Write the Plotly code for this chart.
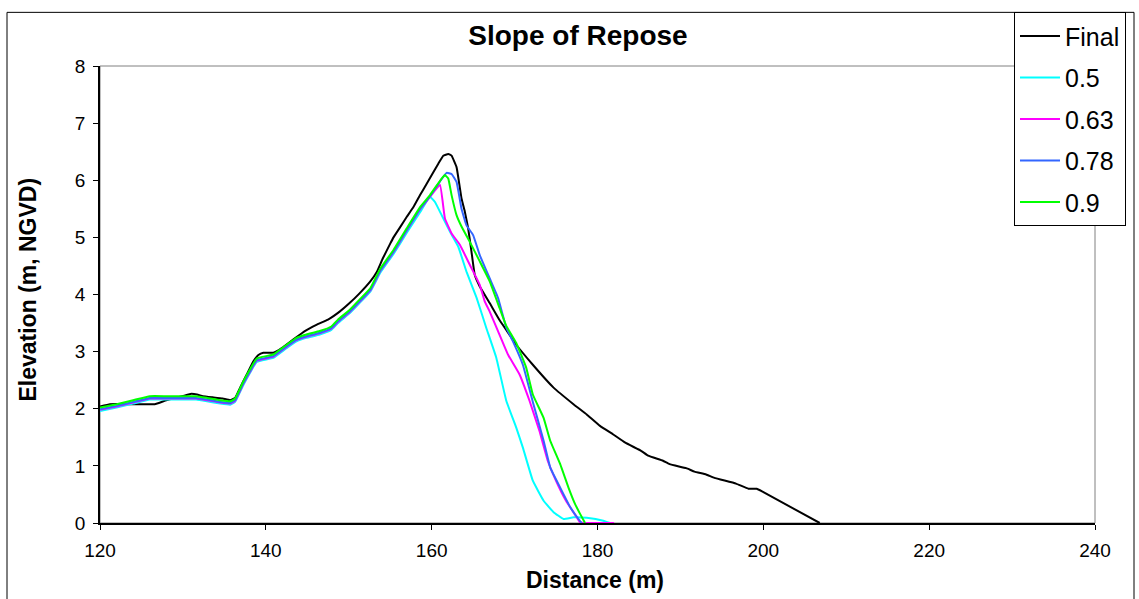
import plotly.graph_objects as go

# ---- data ----
final_x = [120, 121.2, 123.6, 126.6, 128, 129.2, 130.9, 131.7, 132.4, 133.6, 134.8, 135.7, 136.3, 136.9,
           137.7, 138.5, 139.1, 139.7, 140.9, 141.5, 142.1, 143.3, 144.7, 146.1, 147.5, 148.9, 150.1,
           151.3, 152.6, 153.4, 154.1, 155.0, 155.4, 156.2, 157.0, 157.8, 158.6, 159.4, 160.2, 160.8,
           161.4, 162.0, 162.4, 163.0, 163.6, 164.0, 164.4, 164.8, 165.2, 165.8, 167.0, 168.2, 169.0,
           170.2, 172.2, 174.7, 177.1, 178.7, 180.3, 181.9, 183.3, 185.3, 186.1, 187.9, 188.7, 190.7,
           191.7, 193.1, 194.1, 196.7, 198.2, 199.2, 199.9, 206.8]
final_y = [2.04, 2.08, 2.08, 2.08, 2.15, 2.19, 2.26, 2.25, 2.22, 2.20, 2.18, 2.15, 2.19, 2.37,
           2.60, 2.83, 2.94, 2.98, 2.98, 3.02, 3.08, 3.21, 3.36, 3.47, 3.56, 3.70, 3.85,
           4.02, 4.23, 4.40, 4.63, 4.89, 5.00, 5.18, 5.36, 5.53, 5.74, 5.94, 6.14, 6.29,
           6.43, 6.46, 6.43, 6.23, 5.68, 5.45, 5.16, 4.75, 4.34, 4.14, 3.85, 3.55, 3.38,
           3.12, 2.77, 2.37, 2.08, 1.90, 1.70, 1.55, 1.41, 1.26, 1.18, 1.09, 1.03, 0.96,
           0.90, 0.85, 0.79, 0.69, 0.60, 0.60, 0.55, 0.00]

g_x = [120, 122, 124, 126, 128, 130, 131.6, 132.9, 134.5, 135.7, 136.3, 137.3, 138.1, 138.9, 140.9,
       142.5, 143.7, 144.9, 146.5, 147.9, 148.7, 150.1, 151.3, 152.6, 153.8, 155.4, 157.0, 158.6,
       159.8, 161.2, 161.6, 162.0, 162.4, 163.0, 163.6, 164.6, 165.8, 167.0, 168.2, 169.0, 170.2,
       171.4, 172.2, 173.5, 174.3, 175.5, 176.5, 177.3, 177.9, 178.5]
g_y = [2.02, 2.08, 2.15, 2.22, 2.22, 2.22, 2.22, 2.19, 2.15, 2.13, 2.18, 2.48, 2.69, 2.88, 2.95,
       3.12, 3.24, 3.30, 3.36, 3.44, 3.56, 3.73, 3.91, 4.11, 4.45, 4.78, 5.16, 5.53,
       5.74, 6.03, 6.09, 6.03, 5.74, 5.39, 5.19, 4.92, 4.58, 4.23, 3.76, 3.45, 3.15,
       2.72, 2.25, 1.84, 1.44, 1.03, 0.62, 0.33, 0.16, 0.00]

b_x = [120, 122, 124, 126, 128, 130, 131.6, 132.9, 134.5, 135.7, 136.3, 137.3, 138.1, 138.9, 140.9,
       142.5, 143.7, 144.9, 146.5, 147.9, 148.7, 150.1, 151.3, 152.6, 153.8, 155.4, 157.0, 158.6,
       159.8, 161.0, 161.8, 162.4, 163.0, 163.6, 164.2, 165.0, 165.8, 167.0, 168.0, 169.0, 169.8,
       171.0, 172.2, 173.5, 174.3, 175.5, 176.7, 177.7, 178.1]
b_y = [1.99, 2.05, 2.12, 2.19, 2.19, 2.19, 2.19, 2.16, 2.12, 2.10, 2.15, 2.45, 2.66, 2.85, 2.92,
       3.09, 3.21, 3.27, 3.33, 3.41, 3.53, 3.70, 3.88, 4.08, 4.42, 4.75, 5.13, 5.50,
       5.72, 5.98, 6.13, 6.11, 5.97, 5.50, 5.21, 5.04, 4.69, 4.28, 3.94, 3.42, 3.18,
       2.77, 2.12, 1.44, 0.97, 0.62, 0.28, 0.07, 0.00]

m_x = [120, 122, 124, 126, 128, 130, 131.6, 132.9, 134.5, 135.7, 136.3, 137.3, 138.1, 138.9, 140.9,
       142.5, 143.7, 144.9, 146.5, 147.9, 148.7, 150.1, 151.3, 152.6, 153.8, 155.4, 157.0, 158.6,
       159.8, 161.0, 161.6, 162.4, 163.4, 164.6, 165.8, 166.4, 167.0, 168.0, 169.2, 170.6, 171.8,
       173.0, 174.0, 175.0, 176.2, 177.5, 177.9, 182.0]
m_y = [1.98, 2.04, 2.11, 2.18, 2.18, 2.18, 2.18, 2.15, 2.11, 2.09, 2.14, 2.44, 2.65, 2.84, 2.91,
       3.08, 3.20, 3.26, 3.32, 3.40, 3.52, 3.69, 3.87, 4.07, 4.41, 4.74, 5.12, 5.49,
       5.71, 5.92, 5.33, 5.07, 4.87, 4.52, 4.17, 3.88, 3.70, 3.36, 2.95, 2.60, 2.14,
       1.61, 1.09, 0.74, 0.39, 0.10, 0.01, 0.00]

c_x = [120, 122, 124, 126, 128, 130, 131.6, 132.9, 134.5, 135.7, 136.3, 137.3, 138.1, 138.9, 140.9,
       142.5, 143.7, 144.9, 146.5, 147.9, 148.7, 150.1, 151.3, 152.6, 153.8, 155.4, 157.0, 158.6,
       159.8, 160.4, 161.2, 162.2, 163.2, 164.2, 165.4, 166.6, 167.8, 169.0, 170.2, 171.0, 172.2,
       173.5, 174.7, 175.9, 177.1, 178.7, 180.7, 181.5]
c_y = [1.96, 2.02, 2.09, 2.16, 2.16, 2.16, 2.16, 2.13, 2.09, 2.07, 2.12, 2.42, 2.63, 2.82, 2.89,
       3.06, 3.18, 3.24, 3.30, 3.38, 3.50, 3.67, 3.85, 4.05, 4.38, 4.71, 5.08, 5.44,
       5.71, 5.62, 5.39, 5.10, 4.84, 4.40, 3.95, 3.41, 2.89, 2.14, 1.67, 1.32, 0.74,
       0.39, 0.19, 0.07, 0.10, 0.09, 0.04, 0.00]

series_names = ["Final", "0.5", "0.63", "0.78", "0.9"]
series_x = [final_x, c_x, m_x, b_x, g_x]
series_y = [final_y, c_y, m_y, b_y, g_y]
series_colors = ["#000000", "#00FFFF", "#FF00FF", "#3366FF", "#00FF00"]

x_ticks = [120, 140, 160, 180, 200, 220, 240]
y_ticks = [0, 1, 2, 3, 4, 5, 6, 7, 8]

FONT = "Liberation Sans, Arial, sans-serif"

fig = go.Figure()
for name, xs, ys, col in zip(series_names, series_x, series_y, series_colors):
    fig.add_trace(go.Scatter(x=xs, y=ys, mode="lines", name=name, legendgroup=name,
                             line=dict(color=col, width=2, shape="spline", smoothing=0.3)))

# plot-area geometry (pixels): x 100..1095, y 63..523
W, H = 1139, 599
L, R, T, B = 100, 1139 - 1095, 63, 599 - 523
pw, ph = W - L - R, H - T - B

def px(xp):
    return (xp - L) / pw

def py(yp):
    return (H - B - yp) / ph

shapes = [
    # grey plot frame (top/right)
    dict(type="rect", xref="paper", yref="paper", x0=0, x1=1, y0=0, y1=1,
         line=dict(color="#808080", width=1), layer="below"),
    # outer chart border
    dict(type="rect", xref="paper", yref="paper", x0=px(7), x1=px(1134), y0=py(603), y1=py(9),
         line=dict(color="#000000", width=1), layer="below"),
]

annotations = [
    dict(text="<b>Distance (m)</b>", xref="paper", yref="paper", x=px(595), y=py(580),
         xanchor="center", yanchor="middle", showarrow=False,
         font=dict(family=FONT, size=23, color="#000")),
    dict(text="<b>Elevation (m, NGVD)</b>", xref="paper", yref="paper", x=px(28), y=py(288),
         xanchor="center", yanchor="middle", showarrow=False, textangle=-90,
         font=dict(family=FONT, size=23, color="#000")),
]

fig.update_layout(
    width=W, height=H,
    margin=dict(l=L, r=R, t=T, b=B),
    paper_bgcolor="white", plot_bgcolor="white",
    font=dict(family=FONT, color="#000"),
    title=dict(text="<b>Slope of Repose</b>", xref="container", yref="container",
               x=578 / W, y=1 - 35 / H, xanchor="center", yanchor="middle",
               font=dict(family=FONT, size=28, color="#000")),
    xaxis=dict(range=[120, 240], tickvals=x_ticks, ticktext=[str(v) for v in x_ticks],
               showgrid=False, zeroline=False, showline=True, linecolor="#000", linewidth=1.5,
               ticks="outside", ticklen=5, tickcolor="#000", tickwidth=1, ticklabelstandoff=4,
               tickfont=dict(family=FONT, size=19, color="#000")),
    yaxis=dict(range=[0, 8], tickvals=y_ticks, ticktext=[str(v) for v in y_ticks],
               showgrid=False, zeroline=False, showline=True, linecolor="#000", linewidth=1.5,
               ticks="outside", ticklen=5, tickcolor="#000", tickwidth=1, ticklabelstandoff=4,
               tickfont=dict(family=FONT, size=19, color="#000")),
    legend=dict(x=px(1014), y=py(9), xanchor="left", yanchor="top",
                bgcolor="white", bordercolor="#000", borderwidth=1,
                font=dict(family=FONT, size=25, color="#000"),
                tracegroupgap=6, itemwidth=40),
    shapes=shapes,
    annotations=annotations,
)

fig.write_html("out.html")
